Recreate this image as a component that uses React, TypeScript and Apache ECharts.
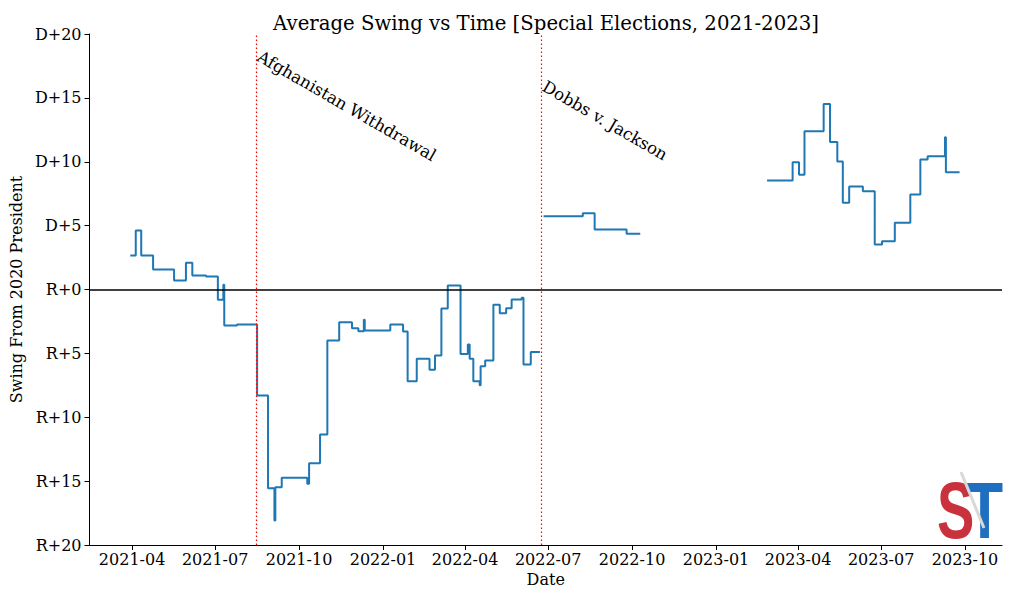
import React, { useEffect, useRef } from "react";
import * as echarts from "echarts";

// ---- Data ----
const seg1Dates = [
  "2021-03-30", "2021-04-05", "2021-04-11", "2021-04-24", "2021-05-17", "2021-05-30",
  "2021-06-06", "2021-06-21", "2021-07-04", "2021-07-10", "2021-07-11", "2021-07-25",
  "2021-08-16", "2021-08-28", "2021-09-04", "2021-09-05", "2021-09-12", "2021-10-10",
  "2021-10-12", "2021-10-24", "2021-11-01", "2021-11-14", "2021-11-28", "2021-12-05",
  "2021-12-11", "2021-12-12", "2022-01-09", "2022-01-23", "2022-01-28", "2022-02-07",
  "2022-02-21", "2022-02-27", "2022-03-06", "2022-03-13", "2022-03-27", "2022-04-04",
  "2022-04-06", "2022-04-10", "2022-04-17", "2022-04-18", "2022-04-23", "2022-05-02",
  "2022-05-09", "2022-05-16", "2022-05-22", "2022-06-02", "2022-06-04", "2022-06-12",
];
const seg1Values = [
  2.66, 4.62, 2.66, 1.57, 0.7, 2.09,
  1.1, 1.02, -0.81, 0.37, -2.82, -2.74,
  -8.3, -15.55, -18.08, -15.47, -14.74, -15.2,
  -13.6, -11.35, -3.99, -2.56, -3.03, -3.26,
  -2.37, -3.2, -2.74, -3.29, -7.18, -5.43,
  -6.29, -5.17, -1.48, 0.31, -5.04, -4.3,
  -5.43, -7.18, -7.5, -6.0, -5.56, -1.2,
  -1.85, -1.46, -0.78, -0.65, -5.87, -4.9,
];
const seg2Dates = ["2022-06-26", "2022-08-08", "2022-08-21", "2022-09-25"];
const seg2Values = [5.74, 5.97, 4.7, 4.36];
const seg3Dates = [
  "2023-02-26", "2023-03-26", "2023-04-02", "2023-04-08", "2023-04-29", "2023-05-06",
  "2023-05-14", "2023-05-20", "2023-05-27", "2023-06-11", "2023-06-24", "2023-07-02",
  "2023-07-16", "2023-08-02", "2023-08-13", "2023-08-21", "2023-09-09", "2023-09-10",
  "2023-09-25",
];
const seg3Values = [
  8.53, 9.97, 8.98, 12.39, 14.53, 11.54,
  10.02, 6.79, 8.06, 7.7, 3.52, 3.78,
  5.22, 7.44, 10.18, 10.43, 11.92, 9.18,
  9.18,
];
// end dates of segments 1 and 2 (series breaks there)
const gapDates = ["2022-06-22", "2022-10-10"];

const eventDates = ["2021-08-15", "2022-06-24"];
const eventLabels = ["Afghanistan Withdrawal", "Dobbs v. Jackson"];

const tickDates = [
  "2021-04-01", "2021-07-01", "2021-10-01", "2022-01-01", "2022-04-01", "2022-07-01",
  "2022-10-01", "2023-01-01", "2023-04-01", "2023-07-01", "2023-10-01",
];
const tickLabels = [
  "2021-04", "2021-07", "2021-10", "2022-01", "2022-04", "2022-07",
  "2022-10", "2023-01", "2023-04", "2023-07", "2023-10",
];

const yTickValues = [-20, -15, -10, -5, 0, 5, 10, 15, 20];
const yTickLabels = ["R+20", "R+15", "R+10", "R+5", "R+0", "D+5", "D+10", "D+15", "D+20"];

const DAY = 86400000;
const toTs = (s: string, h = 0) => {
  const [y, m, d] = s.split("-").map(Number);
  return Date.UTC(y, m - 1, d, h);
};

export default function App() {
  const ref = useRef<HTMLDivElement>(null);
  useEffect(() => {
    if (!ref.current) return;
    const chart = echarts.init(ref.current, null, { renderer: "svg" });
    const zip = (ds: string[], vs: number[]) => ds.map((d, i) => [toTs(d), vs[i]]);
    const data: any[] = [
      ...zip(seg1Dates, seg1Values),
      [toTs(gapDates[0]), null],
      ...zip(seg2Dates, seg2Values),
      [toTs(gapDates[1]), null],
      ...zip(seg3Dates, seg3Values),
    ];
    const tickTs = tickDates.map((d) => toTs(d));
    const serif = "DejaVu Serif";
    chart.setOption({
      animation: false,
      backgroundColor: "#ffffff",
      title: {
        text: "Average Swing vs Time [Special Elections, 2021-2023]",
        left: 541,
        top: 8,
        textAlign: "center",
        textStyle: { fontFamily: serif, fontSize: 19.7, fontWeight: "normal", color: "#000" },
      },
      grid: { left: 88, right: 22, top: 34, bottom: 56, containLabel: false },
      xAxis: {
        type: "value",
        min: toTs("2021-02-13", 7),
        max: toTs("2023-11-10", 12),
        name: "Date",
        nameLocation: "middle",
        nameGap: 26,
        nameTextStyle: { fontFamily: serif, fontSize: 16, color: "#000" },
        axisLine: { show: true, onZero: false, lineStyle: { color: "#000", width: 1 } },
        axisTick: { show: true, length: 5, lineStyle: { color: "#000", width: 1 }, customValues: tickTs },
        axisLabel: {
          customValues: tickTs,
          margin: 6,
          fontFamily: serif,
          fontSize: 16,
          color: "#000",
          formatter: (v: number) => {
            const i = tickTs.findIndex((t) => Math.abs(t - v) < DAY);
            return i >= 0 ? tickLabels[i] : "";
          },
        },
        splitLine: { show: false },
      },
      yAxis: {
        type: "value",
        min: -20,
        max: 20,
        interval: 5,
        name: "Swing From 2020 President",
        nameLocation: "middle",
        nameGap: 62,
        nameTextStyle: { fontFamily: serif, fontSize: 16, color: "#000" },
        axisLine: { show: true, onZero: false, lineStyle: { color: "#000", width: 1 } },
        axisTick: { show: true, length: 5, lineStyle: { color: "#000", width: 1 } },
        axisLabel: {
          margin: 8,
          fontFamily: serif,
          fontSize: 16,
          color: "#000",
          formatter: (v: number) => {
            const i = yTickValues.indexOf(v);
            return i >= 0 ? yTickLabels[i] : "";
          },
        },
        splitLine: { show: false },
      },
      series: [
        {
          type: "line",
          data,
          step: "end",
          showSymbol: false,
          connectNulls: false,
          lineStyle: { color: "#1f77b4", width: 2 },
          z: 3,
          markLine: {
            silent: true,
            symbol: ["none", "none"],
            label: { show: false },
            data: [
              ...eventDates.map((d) => ({
                xAxis: toTs(d),
                lineStyle: { color: "#ff0000", type: [1.5, 2.5], width: 1.2 },
              })),
              { yAxis: 0, lineStyle: { color: "#000", type: "solid", width: 1.5 } },
            ],
          },
        },
      ],
      graphic: [
        {
          type: "text",
          x: 263,
          y: 48,
          rotation: -Math.PI / 6,
          style: {
            text: eventLabels[0],
            fontFamily: serif,
            fontSize: 16.6,
            fill: "#000",
            textAlign: "left",
            textVerticalAlign: "top",
          },
        },
        {
          type: "text",
          x: 548,
          y: 78,
          rotation: -Math.PI / 6,
          style: {
            text: eventLabels[1],
            fontFamily: serif,
            fontSize: 16.6,
            fill: "#000",
            textAlign: "left",
            textVerticalAlign: "top",
          },
        },
        {
          type: "text",
          x: 937,
          y: 470,
          scaleX: 0.7,
          style: {
            text: "S",
            fontFamily: "Liberation Sans",
            fontWeight: "bold",
            fontSize: 80,
            fill: "#c9323c",
            textAlign: "left",
            textVerticalAlign: "top",
          },
        },
        {
          type: "text",
          x: 966,
          y: 470,
          scaleX: 0.76,
          style: {
            text: "T",
            fontFamily: "Liberation Sans",
            fontWeight: "bold",
            fontSize: 80,
            fill: "#1f6fc0",
            textAlign: "left",
            textVerticalAlign: "top",
          },
        },
        {
          type: "line",
          shape: { x1: 961, y1: 472, x2: 984, y2: 528 },
          style: { stroke: "#d8d8d8", lineWidth: 3 },
        },
      ],
    });
    return () => chart.dispose();
  }, []);
  return (
    <div
      ref={ref}
      style={{ position: "fixed", left: 0, top: 0, width: 1024, height: 601, background: "#fff" }}
    />
  );
}
